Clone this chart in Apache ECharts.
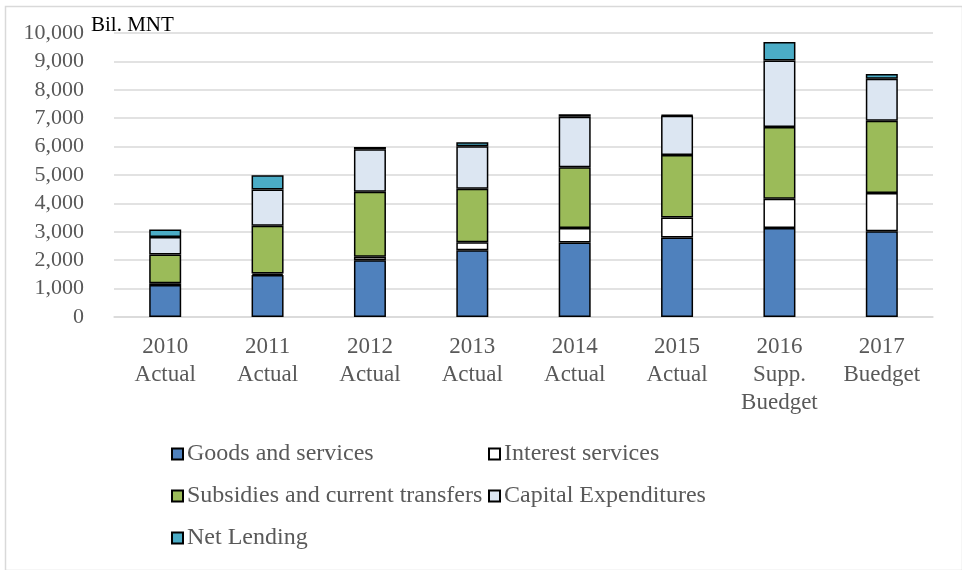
<!DOCTYPE html>
<html>
<head>
<meta charset="utf-8">
<script src="https://cdn.jsdelivr.net/npm/echarts@6/dist/echarts.min.js"></script>
<style>
  html, body { margin: 0; padding: 0; background: #fff; }
  #chart { width: 962px; height: 570px; }
</style>
</head>
<body>
<div id="chart"></div>
<script>
// Government expenditure by type, billions of MNT
const categories = [
  '2010\nActual', '2011\nActual', '2012\nActual', '2013\nActual',
  '2014\nActual', '2015\nActual', '2016\nSupp.\nBuedget', '2017\nBuedget'
];
const goodsServices    = [1130, 1480, 2000, 2350, 2620, 2800, 3130, 3020];
const interestServices = [  60,   50,  120,  280,  510,  700, 1030, 1350];
const subsidies        = [1010, 1680, 2290, 1890, 2140, 2200, 2530, 2540];
const capitalExp       = [ 620, 1280, 1500, 1490, 1780, 1390, 2340, 1480];
const netLending       = [ 260,  500,   80,  140,   85,   20,  650,  170];

const seriesNames = [
  'Goods and services', 'Interest services',
  'Subsidies and current transfers', 'Capital Expenditures', 'Net Lending'
];
const seriesData = [goodsServices, interestServices, subsidies, capitalExp, netLending];
const seriesColors = ['#4f81bd', '#ffffff', '#9bbb59', '#dce6f2', '#4bacc6'];

const FONT = '"Liberation Serif", "Times New Roman", serif';
const GREY = '#595959';

const chart = echarts.init(document.getElementById('chart'), null, { renderer: 'canvas' });

// one legend per entry so the two-column layout lines up
const legendSlots = [
  { left: 171, top: 442 },
  { left: 488, top: 442 },
  { left: 171, top: 484 },
  { left: 488, top: 484 },
  { left: 171, top: 526 }
];
const legends = seriesNames.map((name, i) => ({
  data: [name],
  left: legendSlots[i].left,
  top: legendSlots[i].top,
  padding: 0,
  icon: 'rect',
  itemWidth: 11,
  itemHeight: 11,
  selectedMode: false,
  textStyle: { fontFamily: FONT, fontSize: 24, color: GREY, padding: [0, 0, 0, -1] }
}));

chart.setOption({
  animation: false,
  backgroundColor: '#fff',
  textStyle: { fontFamily: FONT },
  grid: { left: 114, right: 29, top: 33, bottom: 253, containLabel: false },
  legend: legends,
  xAxis: {
    type: 'category',
    data: categories,
    axisLine: { show: true, lineStyle: { color: '#d9d9d9', width: 1.5 } },
    axisTick: { show: false },
    axisLabel: {
      interval: 0,
      margin: 16,
      fontFamily: FONT,
      fontSize: 23,
      color: GREY,
      lineHeight: 28
    }
  },
  yAxis: {
    type: 'value',
    min: 0,
    max: 10000,
    interval: 1000,
    axisLine: { show: false },
    axisTick: { show: false },
    splitLine: { lineStyle: { color: '#d9d9d9', width: 1.5 } },
    axisLabel: {
      margin: 30,
      fontFamily: FONT,
      fontSize: 22,
      color: GREY,
      formatter: v => v.toLocaleString('en-US')
    }
  },
  graphic: [
    {
      type: 'rect',
      left: 3, top: 4,
      shape: { width: 957, height: 564 },
      style: { fill: 'none', stroke: '#d9d9d9', lineWidth: 1.5 },
      silent: true
    },
    {
      type: 'text',
      left: 91, top: 15,
      style: {
        text: 'Bil. MNT',
        fontFamily: 'Liberation Serif',
        fontSize: 21,
        fill: '#000'
      },
      silent: true
    }
  ],
  series: seriesNames.map((name, i) => ({
    name: name,
    type: 'bar',
    stack: 'total',
    barWidth: 32,
    data: seriesData[i],
    itemStyle: { color: seriesColors[i], borderColor: '#000', borderWidth: 1.5 }
  }))
});
</script>
</body>
</html>
